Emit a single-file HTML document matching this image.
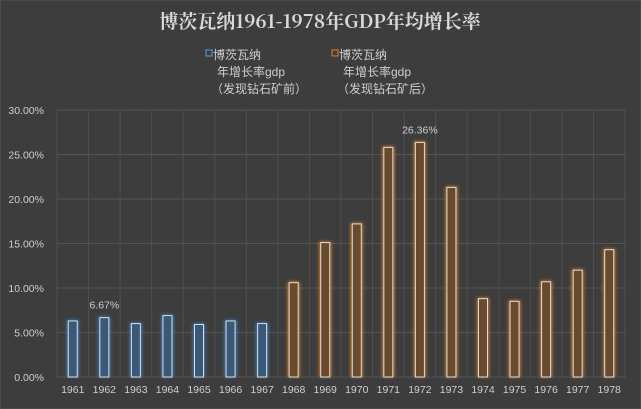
<html><head><style>body{margin:0;background:#3d3d3d}svg text{font-family:"Liberation Sans","Noto Sans CJK SC",sans-serif}</style></head><body>
<svg width="641" height="409">
<defs><filter id="gl" x="-1" y="-1" width="3" height="3"><feGaussianBlur stdDeviation="1.6"/></filter></defs>
<rect width="641" height="409" fill="#3d3d3d" stroke="#555"/>
<text x="320" y="28" text-anchor="middle" fill="#d8d8d8" font-size="19" font-weight="bold" style="font-family:'Noto Serif CJK SC','Liberation Sans',serif">博茨瓦纳1961-1978年GDP年均增长率</text>
<g font-size="12" fill="#cfcfcf">
<rect x="206" y="50" width="6" height="6" fill="none" stroke="#5b9bd5"/>
<text x="213" y="59">博茨瓦纳</text><text x="217" y="76">年增长率gdp</text><text x="211" y="93">（发现钻石矿前）</text>
<rect x="332" y="50" width="6" height="6" fill="none" stroke="#ed7d31"/>
<text x="339" y="59">博茨瓦纳</text><text x="343" y="76">年增长率gdp</text><text x="337" y="93">（发现钻石矿后）</text>
</g>
<g id="grid"></g><g id="bars"></g><g id="labels" font-size="10.5" fill="#cfcfcf"></g>
</svg>
<script>
const years=["1961","1962","1963","1964","1965","1966","1967","1968","1969","1970","1971","1972","1973","1974","1975","1976","1977","1978"];
const before=[6.3,6.67,6.0,6.9,5.9,6.3,6.0,null,null,null,null,null,null,null,null,null,null,null];
const after=[null,null,null,null,null,null,null,10.6,15.1,17.2,25.8,26.36,21.3,8.8,8.5,10.7,12.0,14.3];
const ticks=[0,5,10,15,20,25,30];
const x0=57,x1=625,y0=377,y1=110,ymax=30;
const ns="http://www.w3.org/2000/svg";
const bw=(x1-x0)/years.length;
const X=i=>x0+bw*(i+0.5), Y=v=>y0-(v/ymax)*(y0-y1);
function mk(t,a,p){const e=document.createElementNS(ns,t);for(const k in a)e.setAttribute(k,a[k]);p.appendChild(e);return e;}
const G=document.getElementById('grid'),B=document.getElementById('bars'),L=document.getElementById('labels');
ticks.forEach(t=>{const l=mk('line',{x1:x0,x2:x1,y1:Y(t),y2:Y(t),stroke:'#555'},G);


const tx=mk('text',{x:x0-13,y:Y(t)+4,'text-anchor':'end'},L);tx.textContent=t.toFixed(2)+'%';

});
for(let i=0;i<=years.length;i++){const l=mk('line',{x1:x0+bw*i,x2:x0+bw*i,y1:y1,y2:y0,stroke:'#4f4f4f'},G);

}
years.forEach((y,i)=>{const t=mk('text',{x:X(i),y:y0+16,'text-anchor':'middle'},L);t.textContent=y;

});
function draw(arr,col,fill){arr.forEach((v,i)=>{if(v==null)return;
mk('rect',{x:X(i)-6,y:Y(v)-1,width:12,height:y0-Y(v)+1,fill:col,opacity:0.8,filter:'url(#gl)'},B);
const r=mk('rect',{x:X(i)-4.5,y:Y(v),width:9,height:y0-Y(v),fill:fill,stroke:'#ddd','stroke-width':1},B);

});}
draw(before,'#3f8fd8','#3a5878');draw(after,'#f08a2c','#6a4a2c');
[[1,before],[11,after]].forEach(([i,a])=>{const t=mk('text',{x:X(i),y:Y(a[i])-9,'text-anchor':'middle'},L);t.textContent=a[i].toFixed(2)+'%';

});
</script></body></html>
